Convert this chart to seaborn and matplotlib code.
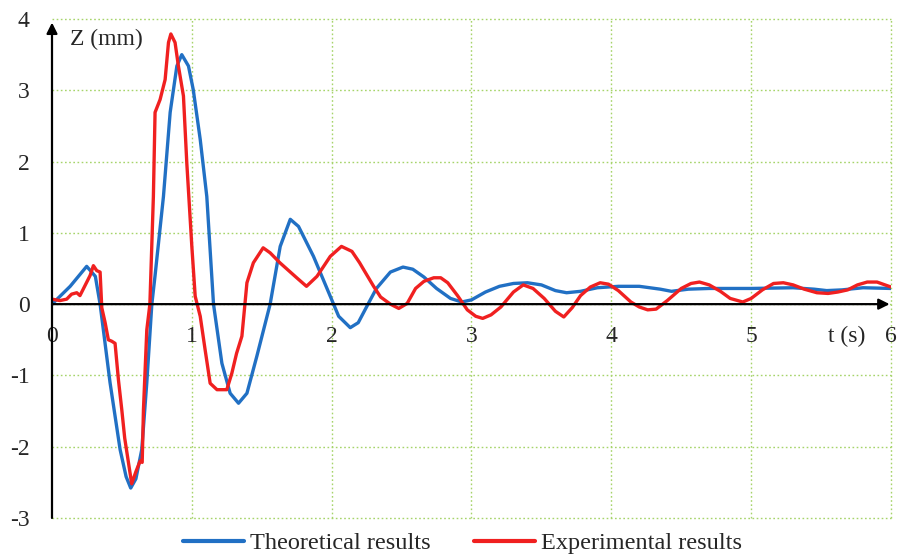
import numpy as np
import pandas as pd
import seaborn as sns
import matplotlib.pyplot as plt

# Theoretical displacement response
t_theory = [0.00, 0.13, 0.248, 0.31, 0.344, 0.415, 0.487, 0.53, 0.563, 0.60, 0.642,
            0.678, 0.714, 0.737, 0.797, 0.845, 0.893, 0.928, 0.976, 1.01, 1.06, 1.107,
            1.155, 1.215, 1.274, 1.334, 1.394, 1.465, 1.56, 1.632, 1.704, 1.763, 1.87,
            1.99, 2.05, 2.133, 2.19, 2.26, 2.32, 2.42, 2.51, 2.58, 2.66, 2.75, 2.85,
            2.93, 3.00, 3.10, 3.20, 3.30, 3.40, 3.50, 3.60, 3.68, 3.78, 3.90, 4.05,
            4.20, 4.35, 4.43, 4.55, 4.70, 5.00, 5.30, 5.45, 5.54, 5.65, 5.80, 6.00]
z_theory = [0.00, 0.25, 0.53, 0.39, 0.00, -1.10, -2.04, -2.42, -2.58, -2.45, -2.04,
            -1.10, 0.00, 0.40, 1.51, 2.69, 3.34, 3.50, 3.34, 3.01, 2.31, 1.51,
            0.00, -0.83, -1.25, -1.39, -1.25, -0.73, 0.00, 0.81, 1.19, 1.09, 0.67,
            0.11, -0.17, -0.33, -0.26, 0.00, 0.22, 0.45, 0.52, 0.49, 0.38, 0.22, 0.08,
            0.03, 0.06, 0.17, 0.25, 0.29, 0.30, 0.27, 0.19, 0.16, 0.18, 0.23, 0.25,
            0.25, 0.21, 0.18, 0.21, 0.22, 0.22, 0.23, 0.21, 0.19, 0.20, 0.23, 0.22]

# Measured displacement response
t_exp = [0.00, 0.057, 0.105, 0.14, 0.177, 0.20, 0.236, 0.272, 0.296, 0.32, 0.344,
         0.356, 0.38, 0.403, 0.427, 0.451, 0.475, 0.499, 0.52, 0.57, 0.60, 0.63,
         0.645, 0.654, 0.678, 0.70, 0.725, 0.737, 0.773, 0.809, 0.833, 0.85, 0.88,
         0.904, 0.94, 0.964, 1.00, 1.024, 1.06, 1.095, 1.131, 1.18, 1.25, 1.286,
         1.32, 1.358, 1.394, 1.44, 1.51, 1.56, 1.63, 1.75, 1.82, 1.895, 1.99, 2.07,
         2.145, 2.20, 2.23, 2.30, 2.35, 2.42, 2.48, 2.54, 2.60, 2.66, 2.73, 2.78,
         2.83, 2.90, 2.97, 3.03, 3.08, 3.14, 3.21, 3.30, 3.37, 3.44, 3.52, 3.60,
         3.66, 3.72, 3.78, 3.85, 3.92, 3.98, 4.05, 4.14, 4.20, 4.26, 4.32, 4.40,
         4.50, 4.57, 4.63, 4.70, 4.78, 4.85, 4.94, 5.00, 5.08, 5.16, 5.23, 5.30,
         5.38, 5.47, 5.55, 5.62, 5.69, 5.76, 5.83, 5.90, 6.00]
z_exp = [0.07, 0.05, 0.07, 0.14, 0.16, 0.12, 0.26, 0.40, 0.54, 0.47, 0.45,
         -0.05, -0.26, -0.50, -0.52, -0.55, -1.06, -1.48, -1.88, -2.52, -2.35, -2.20,
         -2.22, -1.48, -0.36, 0.00, 1.51, 2.69, 2.87, 3.15, 3.67, 3.79, 3.67,
         3.34, 2.92, 1.98, 0.81, 0.11, -0.17, -0.64, -1.11, -1.20, -1.20, -0.97,
         -0.69, -0.45, 0.30, 0.58, 0.79, 0.72, 0.58, 0.37, 0.25, 0.39, 0.67, 0.81,
         0.74, 0.58, 0.48, 0.25, 0.10, 0.00, -0.06, 0.01, 0.22, 0.32, 0.37, 0.37,
         0.30, 0.12, -0.08, -0.17, -0.20, -0.15, -0.04, 0.17, 0.27, 0.22, 0.08, -0.10,
         -0.18, -0.05, 0.12, 0.24, 0.30, 0.28, 0.19, 0.03, -0.04, -0.08, -0.07, 0.05,
         0.22, 0.29, 0.31, 0.27, 0.18, 0.08, 0.03, 0.08, 0.20, 0.29, 0.30, 0.27,
         0.21, 0.16, 0.15, 0.17, 0.20, 0.27, 0.31, 0.31, 0.24]

series_names = ["Theoretical results", "Experimental results"]
series_colors = ["#2170c4", "#f02020"]
x_ticks = [0, 1, 2, 3, 4, 5, 6]
y_ticks = [-3, -2, -1, 0, 1, 2, 3, 4]

df = pd.concat([
    pd.DataFrame({"t": t_theory, "z": z_theory, "series": series_names[0]}),
    pd.DataFrame({"t": t_exp, "z": z_exp, "series": series_names[1]}),
], ignore_index=True)

sns.set_style("white")
plt.rcParams["font.family"] = ["Liberation Serif", "DejaVu Serif"]

fig = plt.figure(figsize=(8.99, 5.57), dpi=100)
ax = fig.add_axes([52 / 899, 1 - 518 / 557, (891 - 52) / 899, (518 - 19) / 557])

grid_kw = dict(color="#a6d46a", lw=1.0, ls=(0, (1.2, 1.8)), zorder=0, clip_on=False)
for xv in x_ticks[1:]:
    ax.axvline(xv, **grid_kw)
for yv in y_ticks:
    ax.axhline(yv, **grid_kw)

sns.lineplot(data=df, x="t", y="z", hue="series", hue_order=series_names,
             palette=series_colors, sort=False, estimator=None, lw=2.4, ax=ax,
             zorder=3, legend=True)
for line in ax.get_lines()[-2:]:
    line.set_solid_joinstyle("round")
    line.set_solid_capstyle("round")

ax.set_xlim(0, 6)
ax.set_ylim(-3, 4)
for s in ax.spines.values():
    s.set_visible(False)

# Coordinate axes with arrow heads
ax.annotate("", xy=(5.99, 0), xytext=(0, 0),
            arrowprops=dict(arrowstyle="-|>", color="black", lw=1.6,
                            mutation_scale=16, shrinkA=0, shrinkB=0), zorder=4)
ax.annotate("", xy=(0, 3.95), xytext=(0, -3),
            arrowprops=dict(arrowstyle="-|>", color="black", lw=1.6,
                            mutation_scale=16, shrinkA=0, shrinkB=0), zorder=4)

ax.set_yticks(y_ticks)
ax.set_yticklabels([str(v) for v in y_ticks])
ax.set_xticks([])
ax.tick_params(axis="y", length=0, pad=16, labelsize=17)
ax.set_xlabel("")
ax.set_ylabel("")

for xv in x_ticks:
    ax.text(xv, -0.30, str(xv), ha="center", va="top", fontsize=17)
ax.text(5.68, -0.30, "t (s)", ha="center", va="top", fontsize=17)
ax.text(0.13, 3.71, "Z (mm)", ha="left", va="center", fontsize=17)

handles, labels = ax.get_legend_handles_labels()
ax.get_legend().remove()
leg = fig.legend(handles, labels, loc="center", bbox_to_anchor=(462.5 / 899, 0.025),
                 ncol=2, frameon=False, fontsize=17.5, handlelength=2.5,
                 columnspacing=1.8, handletextpad=0.25)
for line in leg.get_lines():
    line.set_linewidth(3)

fig.savefig("out.png", dpi=100)
